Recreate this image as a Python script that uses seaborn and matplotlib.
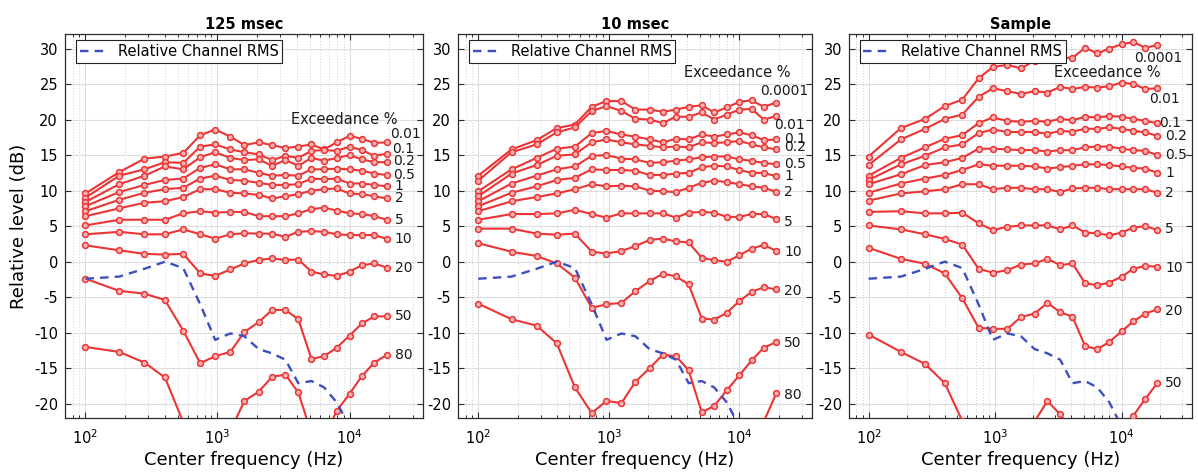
import numpy as np
import pandas as pd
import matplotlib
matplotlib.use("Agg")
import matplotlib.pyplot as plt
import seaborn as sns
from matplotlib.ticker import LogLocator, NullFormatter, MultipleLocator

# ---------------- data ----------------
freqs = [100, 180, 280, 400, 550, 740, 960, 1250, 1600, 2050, 2590, 3270,
         4090, 5150, 6420, 8000, 10000, 12400, 15400, 19200]

rms = [-2.4, -2.1, -1.0, 0.0, -0.9, -6.0, -11.0, -10.1, -10.5, -12.3, -12.9,
       -13.8, -17.1, -16.8, -17.7, -19.8, -23.2, -25.0, -26.5, -28.0]

# 125 msec
names_125 = ["0.01", "0.1", "0.2", "0.5", "1", "2", "5", "10", "20", "50", "80"]
a_0p01 = [9.6, 12.6, 14.5, 14.8, 15.3, 17.8, 18.6, 17.6, 16.4, 16.8, 16.4, 16.0, 16.2, 16.5, 15.8, 16.8, 17.7, 17.3, 16.7, 16.8]
a_0p1 = [9.0, 12.1, 13.0, 14.0, 13.9, 16.2, 16.5, 15.8, 15.4, 15.1, 14.3, 14.9, 14.6, 15.6, 15.7, 15.6, 16.2, 15.7, 14.9, 15.2]
a_0p2 = [8.4, 10.9, 12.1, 13.4, 13.0, 14.7, 15.4, 14.6, 14.3, 14.4, 13.5, 14.3, 13.5, 14.6, 14.2, 14.6, 15.0, 14.4, 14.0, 14.0]
a_0p5 = [7.8, 9.8, 10.8, 11.5, 11.7, 13.2, 13.7, 13.0, 13.0, 12.5, 12.1, 12.2, 12.1, 13.0, 13.0, 13.1, 13.0, 12.8, 12.4, 12.2]
a_1 = [7.1, 8.7, 9.7, 10.2, 10.4, 11.7, 12.1, 11.5, 11.4, 11.1, 10.8, 10.8, 10.9, 11.7, 11.6, 11.7, 11.0, 11.0, 10.8, 10.6]
a_2 = [6.4, 7.5, 8.3, 8.5, 9.1, 10.2, 10.2, 9.7, 9.6, 9.4, 8.9, 9.2, 9.5, 10.0, 10.2, 10.3, 9.6, 9.5, 9.2, 8.9]
a_5 = [5.1, 5.9, 5.9, 5.9, 6.8, 7.1, 6.9, 7.0, 7.0, 6.4, 6.4, 6.4, 6.8, 7.4, 7.6, 7.2, 6.8, 6.7, 6.4, 5.9]
a_10 = [3.85, 4.2, 3.85, 3.85, 4.55, 3.85, 3.25, 3.85, 4.0, 3.95, 3.95, 3.5, 4.2, 4.3, 4.2, 3.85, 3.75, 3.75, 3.75, 3.2]
a_20 = [2.3, 1.6, 1.1, 1.0, 1.1, -1.65, -2.0, -1.1, -0.25, 0.25, 0.45, 0.25, 0.3, -1.4, -1.8, -2.0, -1.4, -0.5, -0.25, -0.85]
a_50 = [-2.4, -4.1, -4.5, -5.4, -9.7, -14.3, -13.3, -12.7, -9.9, -8.5, -6.8, -6.8, -8.1, -13.7, -13.3, -12.1, -10.4, -8.7, -7.7, -7.7]
a_80 = [-12.0, -12.7, -14.2, -16.3, -22.6, -27.0, -28.0, -23.8, -19.6, -18.3, -16.2, -15.9, -18.4, -24.2, -24.7, -21.0, -18.6, -16.1, -14.2, -13.1]

# 10 msec
names_10 = ["0.0001", "0.01", "0.1", "0.2", "0.5", "1", "2", "5", "10", "20", "50", "80"]
b_0p0001 = [12.1, 15.8, 17.1, 18.8, 19.3, 21.8, 22.6, 22.6, 21.4, 21.4, 21.1, 21.4, 21.8, 22.0, 21.0, 21.7, 22.5, 22.7, 21.8, 22.4]
b_0p01 = [11.4, 15.4, 16.5, 18.2, 18.9, 21.2, 21.9, 21.2, 20.1, 20.0, 19.5, 20.4, 20.4, 21.0, 20.0, 20.7, 21.4, 21.5, 20.0, 20.5]
b_0p1 = [9.9, 13.0, 14.6, 15.9, 16.2, 18.1, 18.4, 17.9, 17.6, 17.2, 16.8, 17.3, 17.2, 17.9, 17.6, 17.9, 18.2, 17.8, 17.1, 17.2]
b_0p2 = [9.2, 12.4, 13.6, 14.9, 15.1, 16.8, 17.2, 16.8, 16.5, 16.3, 16.1, 16.2, 16.1, 16.8, 16.7, 16.8, 17.0, 16.5, 16.1, 15.8]
b_0p5 = [8.5, 11.0, 12.1, 13.0, 13.4, 14.9, 15.0, 14.5, 14.4, 13.9, 14.0, 14.2, 14.4, 14.7, 14.8, 14.8, 14.4, 14.2, 13.9, 13.7]
b_1 = [7.8, 9.7, 10.6, 11.5, 11.8, 13.0, 12.9, 12.9, 12.8, 12.2, 12.2, 12.4, 12.5, 13.3, 13.5, 13.4, 12.9, 12.5, 12.5, 12.0]
b_2 = [7.1, 8.5, 9.1, 9.6, 10.2, 10.9, 10.6, 10.7, 10.6, 10.0, 9.9, 9.8, 10.4, 11.1, 11.4, 11.2, 10.9, 10.6, 10.4, 9.8]
b_5 = [5.9, 6.7, 6.7, 6.8, 7.3, 6.7, 6.2, 6.8, 6.8, 6.8, 6.8, 6.2, 6.9, 7.0, 6.9, 6.3, 6.3, 6.7, 6.7, 6.0]
b_10 = [4.65, 4.65, 3.95, 3.8, 3.95, 1.4, 1.15, 1.5, 2.2, 3.05, 3.25, 2.85, 2.7, 0.55, 0.2, 0.0, 0.9, 1.85, 2.35, 1.5]
b_20 = [2.6, 1.4, 0.8, -0.25, -2.25, -6.5, -6.0, -5.8, -4.15, -2.75, -1.7, -2.05, -3.2, -8.0, -8.15, -7.2, -5.55, -4.25, -3.6, -3.9]
b_50 = [-5.9, -8.1, -9.0, -11.5, -17.7, -21.3, -19.6, -19.9, -16.9, -15.0, -13.1, -13.3, -15.3, -21.2, -20.3, -18.1, -16.0, -13.9, -12.1, -11.3]
b_80 = [-24.0, -26.0, -28.0, -31.0, -34.0, -36.0, -35.0, -33.0, -30.0, -28.0, -27.0, -27.0, -29.0, -32.0, -33.0, -31.0, -28.0, -25.0, -22.5, -18.5]

# Sample
names_s = ["0.0001", "0.01", "0.1", "0.2", "0.5", "1", "2", "5", "10", "20", "50"]
c_0p0001 = [14.8, 18.8, 20.1, 21.9, 22.8, 25.8, 27.4, 27.7, 27.2, 28.3, 28.6, 28.7, 28.7, 30.1, 29.3, 30.0, 30.6, 30.9, 30.1, 30.5]
c_0p01 = [13.6, 17.2, 18.7, 20.1, 20.7, 23.2, 24.4, 24.0, 23.6, 24.0, 23.8, 24.6, 24.3, 24.6, 24.5, 24.7, 25.2, 25.0, 24.3, 24.4]
c_0p1 = [12.1, 14.6, 16.1, 17.3, 17.8, 19.5, 20.3, 19.8, 19.7, 19.8, 19.7, 20.1, 19.9, 20.4, 20.3, 20.5, 20.4, 20.1, 19.8, 19.5]
c_0p2 = [11.5, 13.7, 14.9, 16.1, 16.5, 18.1, 18.6, 18.25, 18.25, 18.25, 18.0, 18.4, 18.3, 18.7, 18.7, 18.9, 18.7, 18.4, 18.2, 17.7]
c_0p5 = [10.9, 12.3, 13.6, 14.0, 14.6, 15.9, 15.9, 15.8, 15.7, 15.7, 15.5, 15.7, 15.7, 16.1, 16.2, 16.2, 15.9, 15.7, 15.6, 15.0]
c_1 = [9.7, 11.0, 11.7, 12.2, 12.9, 13.7, 13.5, 13.5, 13.5, 13.4, 13.1, 13.3, 13.5, 13.7, 13.7, 13.6, 13.4, 13.2, 13.1, 12.5]
c_2 = [8.6, 9.6, 9.9, 10.2, 10.9, 10.9, 10.2, 10.4, 10.4, 10.2, 10.2, 9.8, 10.3, 10.4, 10.4, 10.2, 10.2, 10.2, 10.2, 9.7]
c_5 = [7.0, 7.1, 6.8, 6.8, 6.9, 5.4, 4.45, 4.9, 5.1, 5.1, 5.1, 4.55, 5.1, 4.1, 4.0, 3.7, 4.1, 4.8, 5.0, 4.45]
c_10 = [5.1, 4.55, 3.85, 3.2, 2.4, -1.0, -1.55, -1.2, -0.4, -0.25, 0.4, -0.5, -0.25, -3.05, -3.3, -2.95, -2.1, -1.0, -0.6, -0.7]
c_20 = [1.95, 0.4, -0.3, -1.65, -5.15, -9.3, -9.45, -9.45, -7.8, -7.3, -5.8, -7.1, -7.75, -11.9, -12.3, -11.3, -9.8, -8.4, -7.3, -6.7]
c_50 = [-10.25, -12.7, -14.4, -17.1, -22.4, -27.0, -29.0, -28.0, -25.0, -22.5, -19.6, -21.5, -24.0, -27.0, -27.5, -26.0, -23.5, -21.65, -19.3, -17.05]

titles = ["125 msec", "10 msec", "Sample"]

# ---------------- style ----------------
RED = "#ec3434"
RED_FACE = "#f6b3b3"
BLUE = "#3d4fbf"
SPINE = "#2b2b2b"

plt.rcParams["font.family"] = ["DejaVu Sans"]
plt.rcParams["axes.unicode_minus"] = False

fig = plt.figure(figsize=(11.98, 4.72), dpi=100)
W, H = 1198.0, 472.0
bottom_px, top_px = 418.0, 34.3
panels_px = [(65, 423), (458, 812), (849, 1192)]
axes = []
for l, r in panels_px:
    axes.append(fig.add_axes([l / W, 1 - bottom_px / H, (r - l) / W, (bottom_px - top_px) / H]))

panel_series = [
    (names_125, [a_0p01, a_0p1, a_0p2, a_0p5, a_1, a_2, a_5, a_10, a_20, a_50, a_80]),
    (names_10, [b_0p0001, b_0p01, b_0p1, b_0p2, b_0p5, b_1, b_2, b_5, b_10, b_20, b_50, b_80]),
    (names_s, [c_0p0001, c_0p01, c_0p1, c_0p2, c_0p5, c_1, c_2, c_5, c_10, c_20, c_50]),
]

# label placement tweaks (y in dB, dx in points)
label_y = [
    {"0.01": 18.0, "0.1": 15.8, "0.2": 14.2},
    {"0.0001": 24.0, "0.01": 19.3, "0.2": 16.1, "5": 5.6, "10": 1.4, "20": -4.1, "50": -11.4, "80": -18.8},
    {"0.0001": 28.7, "0.01": 22.9, "0.2": 17.7, "5": 4.55, "10": -0.85, "20": -6.95, "50": -17.1},
]
label_dx = [
    {"0.01": 2.0, "0.1": 3.5, "0.2": 4.5, "0.5": 4.5},
    {"0.0001": -12.0, "0.01": -1.5},
    {"0.0001": -17.0, "0.01": -6.0, "0.1": 1.5},
]
exceed_pos = [(0.930, 20.0), (0.938, 26.6), (0.907, 26.6)]

for i, ax in enumerate(axes):
    names, series = panel_series[i]
    ax.set_xscale("log")
    rows = []
    for n, vals in zip(names, series):
        for f, v in zip(freqs, vals):
            rows.append((n, f, v))
    df = pd.DataFrame(rows, columns=["exceed", "freq", "level"])
    sns.lineplot(data=df, x="freq", y="level", units="exceed", estimator=None,
                 color=RED, lw=1.5, marker="o", ms=4.2, mfc=RED_FACE, mec=RED,
                 mew=1.1, ax=ax, legend=False, sort=False, zorder=3)
    rdf = pd.DataFrame({"freq": freqs, "level": rms})
    sns.lineplot(data=rdf, x="freq", y="level", ax=ax, color=BLUE, lw=1.7,
                 linestyle=(0, (3.6, 2.6)), label="Relative Channel RMS",
                 sort=False, zorder=4)

    ax.set_xlim(70, 36000)
    ax.set_ylim(-22, 32)
    ax.yaxis.set_major_locator(MultipleLocator(5))
    ax.xaxis.set_major_locator(LogLocator(base=10, numticks=10))
    ax.xaxis.set_minor_locator(LogLocator(base=10, subs=np.arange(2, 10), numticks=100))
    ax.xaxis.set_minor_formatter(NullFormatter())

    ax.set_axisbelow(True)
    ax.grid(which="major", color="#dddddd", lw=0.8, ls="-")
    ax.grid(which="minor", axis="x", color="#cfcfcf", lw=0.7, ls=(0, (1, 2)))

    ax.tick_params(which="both", direction="in", top=True, right=True, color=SPINE)
    ax.tick_params(which="major", length=4.5, width=0.8, labelsize=10.5)
    ax.tick_params(which="minor", length=2.5, width=0.7)
    ax.tick_params(axis="x", which="major", pad=7.5)
    ax.tick_params(axis="y", which="major", pad=5.0)
    for s in ax.spines.values():
        s.set_color(SPINE)
        s.set_linewidth(0.9)

    ax.set_title(titles[i], fontsize=10.5, fontweight="bold", pad=4)
    ax.set_xlabel("Center frequency (Hz)", fontsize=13, labelpad=3)
    if i == 0:
        ax.set_ylabel("Relative level (dB)", fontsize=13, labelpad=4)
    else:
        ax.set_ylabel("")

    leg = ax.legend(loc="upper left", bbox_to_anchor=(0.031, 0.984),
                    borderaxespad=0, frameon=True, fancybox=False,
                    edgecolor="#222222", framealpha=1, fontsize=10.5,
                    handlelength=2.0, borderpad=0.25, handletextpad=0.6)
    leg.get_frame().set_linewidth(0.8)
    leg.set_zorder(10)

    # series labels
    for n, vals in zip(names, series):
        y = label_y[i].get(n, vals[-1])
        dx = label_dx[i].get(n, 5.5)
        ax.annotate(n, xy=(freqs[-1], y), xytext=(dx, 0), textcoords="offset points",
                    ha="left", va="center", fontsize=10, color="#1a1a1a",
                    annotation_clip=False, zorder=5)
    ex, ey = exceed_pos[i]
    ax.text(ex, ey, "Exceedance %", transform=ax.get_yaxis_transform(),
            ha="right", va="center", fontsize=10.5, color="#1a1a1a", zorder=5)

fig.savefig("out.png", dpi=100)
